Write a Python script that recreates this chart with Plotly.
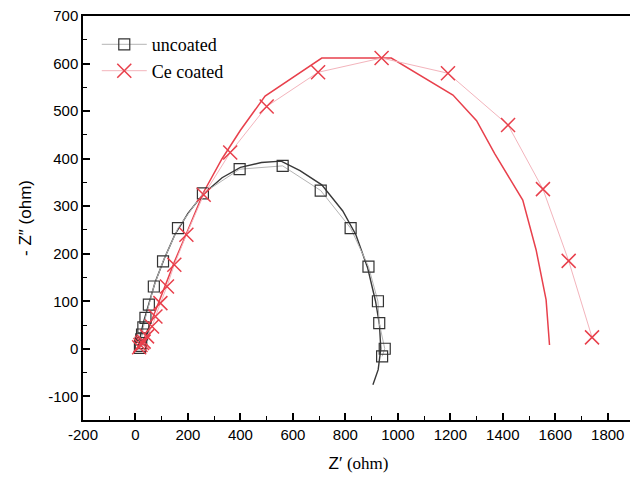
import plotly.graph_objects as go

# Nyquist data, uncoated (black squares)
uncoated_x = [17, 18, 20, 22, 25, 30, 38, 51, 70, 105, 162, 257, 397, 561, 706, 820, 888, 924, 929, 950, 940]
uncoated_y = [2, 6, 12, 20, 30, 45, 65, 93, 131, 184, 254, 327, 378, 385, 333, 254, 173, 100, 54, 0, -16]

# fitted curve, uncoated
uncoated_fit_x = [12, 18, 30, 50, 75, 110, 150, 200, 257, 330, 400, 480, 555, 627, 710, 790, 840, 885, 915, 930, 935, 925, 905]
uncoated_fit_y = [5, 25, 55, 95, 140, 190, 240, 285, 325, 360, 382, 392, 395, 375, 345, 290, 240, 170, 100, 50, 0, -44, -76]

# Ce coated (red crosses)
ce_x = [14, 19, 25, 31, 44, 63, 76, 95, 120, 148, 194, 260, 361, 500, 696, 938, 1191, 1420, 1553, 1651, 1740]
ce_y = [3, 8, 12, 15, 26, 47, 68, 96, 131, 177, 240, 324, 413, 510, 582, 612, 580, 471, 336, 185, 24]

# fitted curve, Ce coated
ce_fit_x = [10, 20, 35, 55, 80, 110, 150, 200, 260, 330, 400, 494, 710, 975, 1210, 1300, 1369, 1430, 1476, 1527, 1565, 1578]
ce_fit_y = [0, 10, 25, 50, 85, 130, 185, 250, 330, 400, 460, 532, 612, 612, 534, 480, 411, 355, 313, 208, 103, 8]

x_ticks = list(range(-200, 1801, 200))
y_ticks = list(range(-100, 701, 100))

fig = go.Figure()

fig.add_trace(go.Scatter(x=uncoated_fit_x, y=uncoated_fit_y, mode="lines",
                         line=dict(color="#383838", width=1.4), showlegend=False, hoverinfo="skip"))
fig.add_trace(go.Scatter(x=ce_fit_x, y=ce_fit_y, mode="lines",
                         line=dict(color="#e8404c", width=1.5), showlegend=False, hoverinfo="skip"))

fig.add_trace(go.Scatter(x=uncoated_x, y=uncoated_y, mode="lines+markers", name="uncoated",
                         line=dict(color="#b4b4b4", width=1),
                         marker=dict(symbol="square-open", size=11, color="#333333",
                                     line=dict(width=1.2, color="#333333"))))
fig.add_trace(go.Scatter(x=ce_x, y=ce_y, mode="lines+markers", name="Ce coated",
                         line=dict(color="#f3b4bc", width=1),
                         marker=dict(symbol="x-thin-open", size=14, color="#e8404c",
                                     line=dict(width=1.5, color="#e8404c"))))

axis_common = dict(
    showline=True, linecolor="black", linewidth=1.5, mirror=True,
    ticks="inside", ticklen=7, tickwidth=1.5, tickcolor="black",
    showgrid=False, zeroline=False, automargin=False, ticklabeloverflow="allow",
    tickfont=dict(family="Liberation Sans, Arial", size=15, color="black"),
)

# page body has an 8px margin, so the figure is a bit smaller than the window
fig.update_layout(
    width=630, height=469,
    margin=dict(l=75, r=4, t=8, b=57),
    plot_bgcolor="white", paper_bgcolor="white",
    xaxis=dict(range=[-200, 1900], tickvals=x_ticks, ticktext=[str(v) for v in x_ticks],
               minor=dict(ticks="inside", ticklen=4, tickwidth=1.2, tickcolor="black", dtick=100, tick0=0),
               title=dict(text="Z\u2032 <span style='font-family:Liberation Serif'>(ohm)</span>",
                          font=dict(family="Liberation Sans, Arial", size=17, color="black"), standoff=15),
               **axis_common),
    yaxis=dict(range=[-150, 700.5], tickvals=y_ticks, ticktext=[str(v) for v in y_ticks],
               minor=dict(ticks="inside", ticklen=4, tickwidth=1.2, tickcolor="black", dtick=50, tick0=0),
               title=dict(text="- Z\u2033 (ohm)",
                          font=dict(family="Liberation Sans, Arial", size=17, color="black"), standoff=12),
               **axis_common),
    legend=dict(x=0.025, y=0.975, xanchor="left", yanchor="top", itemwidth=45,
                bgcolor="rgba(0,0,0,0)", tracegroupgap=0,
                font=dict(family="Liberation Serif, Times New Roman", size=18, color="black")),
)

fig.write_html("out.html")
